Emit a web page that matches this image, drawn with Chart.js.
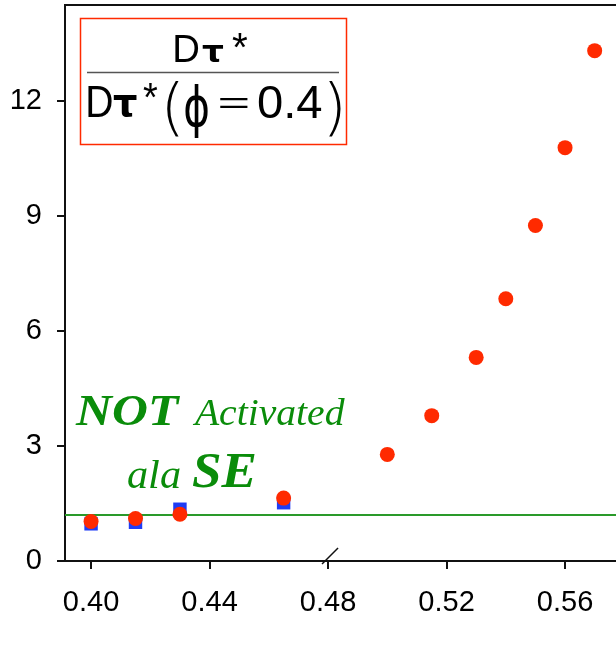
<!DOCTYPE html>
<html>
<head>
<meta charset="utf-8">
<script src="https://cdn.jsdelivr.net/npm/chart.js@4.4.0/dist/chart.umd.min.js"></script>
<style>
  html, body { margin: 0; padding: 0; background: #fff; }
  #wrap { width: 616px; height: 650px; }
</style>
</head>
<body>
<div id="wrap"><canvas id="myChart" width="616" height="650"></canvas></div>
<script>
  // volume fraction values
  let phiLow = [0.40, 0.415, 0.43, 0.465];
  let phiHigh = [0.50, 0.515, 0.53, 0.54, 0.55, 0.56, 0.57];

  // normalized delay time, red circles
  let redLow = [1.03, 1.11, 1.22, 1.64];
  let redHigh = [2.78, 3.79, 5.31, 6.84, 8.75, 10.78, 13.31];

  // blue squares (only measured at low phi)
  let blueLow = [0.97, 1.01, 1.35, 1.52];

  // threshold line
  let threshold = 1.2;

  let xTicks = [0.40, 0.44, 0.48, 0.52, 0.56];
  let yTicks = [0, 3, 6, 9, 12];
  let xMin = 0.3912, xMax = 0.5772;
  let yMin = 0, yMax = 14.5;

  let green = "#0a8c0a";
  let red = "#ff2a00";

  function toPoints(xs, ys) {
    let pts = [];
    for (let i = 0; i < xs.length; i++) {
      pts.push({ x: xs[i], y: ys[i] });
    }
    return pts;
  }

  let redPts = toPoints(phiLow.concat(phiHigh), redLow.concat(redHigh));
  let bluePts = toPoints(phiLow, blueLow);

  // draws a piece of text so that its ink fills the given box
  function fitText(ctx, text, font, left, right, top, bottom) {
    ctx.save();
    ctx.font = font;
    ctx.textAlign = "left";
    ctx.textBaseline = "alphabetic";
    let m = ctx.measureText(text);
    let w = m.actualBoundingBoxLeft + m.actualBoundingBoxRight;
    let h = m.actualBoundingBoxAscent + m.actualBoundingBoxDescent;
    ctx.translate(left, top);
    ctx.scale((right - left) / w, (bottom - top) / h);
    ctx.fillText(text, m.actualBoundingBoxLeft, m.actualBoundingBoxAscent);
    ctx.restore();
  }

  let sans = "'Liberation Sans', Arial, sans-serif";
  let serif = "'Liberation Serif', 'Times New Roman', serif";

  // extra drawing: top frame line, axis break, formula box, green notes
  let decorations = {
    id: "decorations",
    afterDraw(chart) {
      let ctx = chart.ctx;
      let area = chart.chartArea;
      let xs = chart.scales.x;
      ctx.save();

      // top frame line
      ctx.strokeStyle = "#111";
      ctx.lineWidth = 2;
      ctx.beginPath();
      ctx.moveTo(area.left - 1, area.top);
      ctx.lineTo(area.right, area.top);
      ctx.stroke();

      // axis break mark near 0.48
      let bx = xs.getPixelForValue(0.48);
      ctx.lineWidth = 1.5;
      ctx.beginPath();
      ctx.moveTo(bx - 6, area.bottom + 3);
      ctx.lineTo(bx + 10, area.bottom - 13);
      ctx.stroke();

      // formula box
      ctx.strokeStyle = red;
      ctx.lineWidth = 1.5;
      ctx.strokeRect(80.5, 18.5, 266, 126);

      ctx.fillStyle = "#000";
      // numerator
      fitText(ctx, "D", "40px " + sans, 175, 198, 35, 61.7);
      fitText(ctx, "τ", "bold 36px 'DejaVu Sans', sans-serif", 202, 224, 45, 62);
      fitText(ctx, "*", "38px " + sans, 232, 248, 32, 47);

      // fraction bar
      ctx.strokeStyle = "#555";
      ctx.lineWidth = 1.5;
      ctx.beginPath();
      ctx.moveTo(87, 72.5);
      ctx.lineTo(339, 72.5);
      ctx.stroke();

      // denominator
      fitText(ctx, "D", "44px " + sans, 88, 112, 85, 116.7);
      fitText(ctx, "τ", "bold 40px 'DejaVu Sans', sans-serif", 113, 137, 95, 117);
      fitText(ctx, "*", "38px " + sans, 143, 158, 82, 97);
      fitText(ctx, "(", "200 44px 'DejaVu Sans', sans-serif", 166, 179, 80, 137);
      fitText(ctx, "ϕ", "44px 'DejaVu Sans', sans-serif", 185, 208, 83, 137);
      fitText(ctx, "=", "44px " + sans, 220, 248, 98, 108);
      fitText(ctx, "0.4", "44px " + sans, 258, 322, 85, 117.5);
      fitText(ctx, ")", "200 44px 'DejaVu Sans', sans-serif", 328, 341, 80, 137);

      // green notes
      ctx.fillStyle = green;
      fitText(ctx, "NOT", "italic bold 48px " + serif, 75, 180, 395, 425);
      fitText(ctx, "Activated", "italic 41px " + serif, 192, 345, 398, 425);
      fitText(ctx, "ala", "italic 40px " + serif, 128, 180, 460, 488);
      fitText(ctx, "SE", "italic bold 54px " + serif, 192, 255, 453, 488);

      ctx.restore();
    },
  };

  let tickFont = { family: sans, size: 29 };

  function noPadding(scale) {
    scale.paddingTop = 0;
    scale.paddingBottom = 0;
    scale.paddingLeft = 0;
    scale.paddingRight = 0;
  }

  let ctx = document.getElementById("myChart").getContext("2d");
  let chart = new Chart(ctx, {
    type: "scatter",
    data: {
      datasets: [
        {
          label: "red",
          data: redPts,
          backgroundColor: red,
          borderColor: red,
          pointStyle: "circle",
          pointRadius: 7.5,
          borderWidth: 0,
        },
        {
          label: "blue",
          data: bluePts,
          backgroundColor: "#1f3cf5",
          borderColor: "#1f3cf5",
          pointStyle: "rect",
          pointRadius: 9.5,
          borderWidth: 0,
        },
        {
          type: "line",
          label: "threshold",
          data: [{ x: xMin, y: threshold }, { x: xMax, y: threshold }],
          borderColor: "#2a9a2a",
          borderWidth: 2,
          pointRadius: 0,
          fill: false,
        },
      ],
    },
    options: {
      responsive: false,
      animation: false,
      layout: { autoPadding: false, padding: { top: 5, right: 0, left: 0, bottom: 0 } },
      plugins: {
        legend: { display: false },
        tooltip: { enabled: false },
      },
      scales: {
        x: {
          type: "linear",
          min: xMin,
          max: xMax,
          afterBuildTicks: (scale) => {
            scale.ticks = xTicks.map((v) => ({ value: v }));
          },
          afterFit: (scale) => {
            scale.height = 89;
            noPadding(scale);
          },
          grid: { display: true, drawOnChartArea: false, drawTicks: true, tickLength: 8, color: "#111", lineWidth: 2 },
          border: { display: true, color: "#111", width: 2 },
          ticks: {
            color: "#000",
            font: tickFont,
            padding: 17,
            maxRotation: 0,
            callback: (v) => v.toFixed(2),
          },
        },
        y: {
          type: "linear",
          min: yMin,
          max: yMax,
          afterBuildTicks: (scale) => {
            scale.ticks = yTicks.map((v) => ({ value: v }));
          },
          afterFit: (scale) => {
            scale.width = 65;
            noPadding(scale);
          },
          grid: { display: true, drawOnChartArea: false, drawTicks: true, tickLength: 8, color: "#111", lineWidth: 2 },
          border: { display: true, color: "#111", width: 2 },
          ticks: {
            color: "#000",
            font: tickFont,
            padding: 15,
            callback: (v) => String(v),
          },
        },
      },
    },
    plugins: [decorations],
  });
</script>
</body>
</html>
